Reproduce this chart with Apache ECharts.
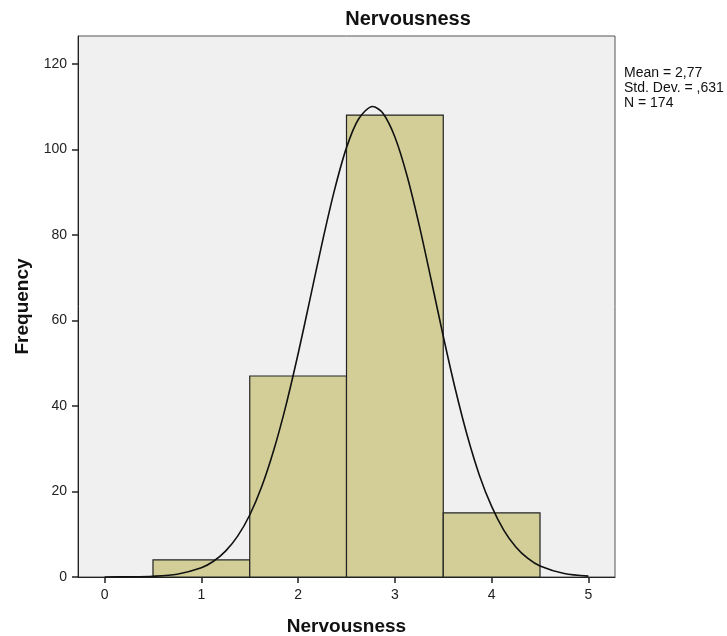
<!DOCTYPE html>
<html>
<head>
<meta charset="utf-8">
<script src="https://cdn.jsdelivr.net/npm/echarts@6/dist/echarts.min.js"></script>
<style>
html,body{margin:0;padding:0;background:#fff;overflow:hidden;}
#chart{width:727px;height:636px;}
</style>
</head>
<body>
<div id="chart"></div>
<script>
// Histogram bins (centres) and frequencies
var binCenters = [1, 2, 3, 4];
var frequencies = [4, 47, 108, 15];
// Normal curve
var curveX = [0, 0.25, 0.5, 0.75, 1, 1.125, 1.25, 1.375, 1.5, 1.625, 1.75, 1.875, 2, 2.125, 2.25, 2.375, 2.5, 2.625, 2.77, 2.875, 3, 3.125, 3.25, 3.375, 3.5, 3.625, 3.75, 3.875, 4, 4.125, 4.25, 4.375, 4.5, 4.75, 5];
var curveY = [0.01, 0.04, 0.17, 0.65, 2.15, 3.68, 6.05, 9.55, 14.5, 21.2, 29.8, 40.2, 52.2, 65.2, 78.3, 90.4, 100.4, 107.1, 110.0, 108.5, 102.9, 93.9, 82.4, 69.5, 56.3, 43.9, 32.9, 23.7, 16.5, 10.97, 7.03, 4.33, 2.57, 0.80, 0.21];
var xTicks = [0, 1, 2, 3, 4, 5];
var yTicks = [0, 20, 40, 60, 80, 100, 120];
var statsLines = ['Mean = 2,77', 'Std. Dev. = ,631', 'N = 174'];
var titleText = 'Nervousness';
var xName = 'Nervousness';
var yName = 'Frequency';

var barData = binCenters.map(function (c, i) { return [c, frequencies[i]]; });
var lineData = curveX.map(function (x, i) { return [x, curveY[i]]; });

var FONT = 'Liberation Sans, Arial, sans-serif';
var chart = echarts.init(document.getElementById('chart'), null, {renderer: 'canvas'});
chart.setOption({
  animation: false,
  backgroundColor: '#ffffff',
  textStyle: {fontFamily: FONT},
  grid: {
    left: 78, right: 112, top: 36, bottom: 59,
    containLabel: false, outerBoundsMode: 'none',
    show: true, backgroundColor: '#f0f0f0', borderColor: '#555', borderWidth: 1
  },
  xAxis: {
    type: 'value', min: -0.275, max: 5.275,
    splitLine: {show: false},
    axisLine: {show: true, onZero: false, lineStyle: {color: '#222', width: 1}},
    axisTick: {show: true, length: 6, customValues: xTicks, lineStyle: {color: '#222', width: 1.5}},
    axisLabel: {customValues: xTicks, margin: 11, fontSize: 14, color: '#222', fontFamily: FONT},
    name: xName, nameLocation: 'middle', nameGap: 40,
    nameTextStyle: {fontSize: 19, fontWeight: 'bold', color: '#111', fontFamily: FONT}
  },
  yAxis: {
    type: 'value', min: 0, max: 126.5,
    splitLine: {show: false},
    axisLine: {show: true, onZero: false, lineStyle: {color: '#222', width: 1}},
    axisTick: {show: true, length: 6, customValues: yTicks, lineStyle: {color: '#222', width: 1.5}},
    axisLabel: {customValues: yTicks, margin: 11, fontSize: 14, color: '#222', fontFamily: FONT},
    name: yName, nameLocation: 'middle', nameGap: 45,
    nameTextStyle: {fontSize: 19, fontWeight: 'bold', color: '#111', fontFamily: FONT}
  },
  graphic: [
    {type: 'text', x: 408, y: 19,
     style: {text: titleText, fontSize: 20, fontWeight: 'bold', fill: '#111', fontFamily: FONT,
             textAlign: 'center', textVerticalAlign: 'middle'}},
    {type: 'text', x: 624, y: 66,
     style: {text: statsLines.join('\n'), fontSize: 14, lineHeight: 14.7, fill: '#111', fontFamily: FONT,
             textAlign: 'left', textVerticalAlign: 'top'}}
  ],
  series: [
    {
      type: 'custom',
      data: barData,
      encode: {x: 0, y: 1},
      renderItem: function (params, api) {
        var c = api.value(0), v = api.value(1);
        var p0 = api.coord([c - 0.5, v]);
        var p1 = api.coord([c + 0.5, 0]);
        return {
          type: 'rect',
          shape: {x: p0[0], y: p0[1], width: p1[0] - p0[0], height: p1[1] - p0[1]},
          style: {fill: '#d3ce98', stroke: '#222', lineWidth: 1.2}
        };
      },
      z: 2
    },
    {
      type: 'line',
      data: lineData,
      smooth: 0.3,
      showSymbol: false,
      symbol: 'none',
      lineStyle: {color: '#111', width: 1.6},
      z: 3
    }
  ]
});
</script>
</body>
</html>
